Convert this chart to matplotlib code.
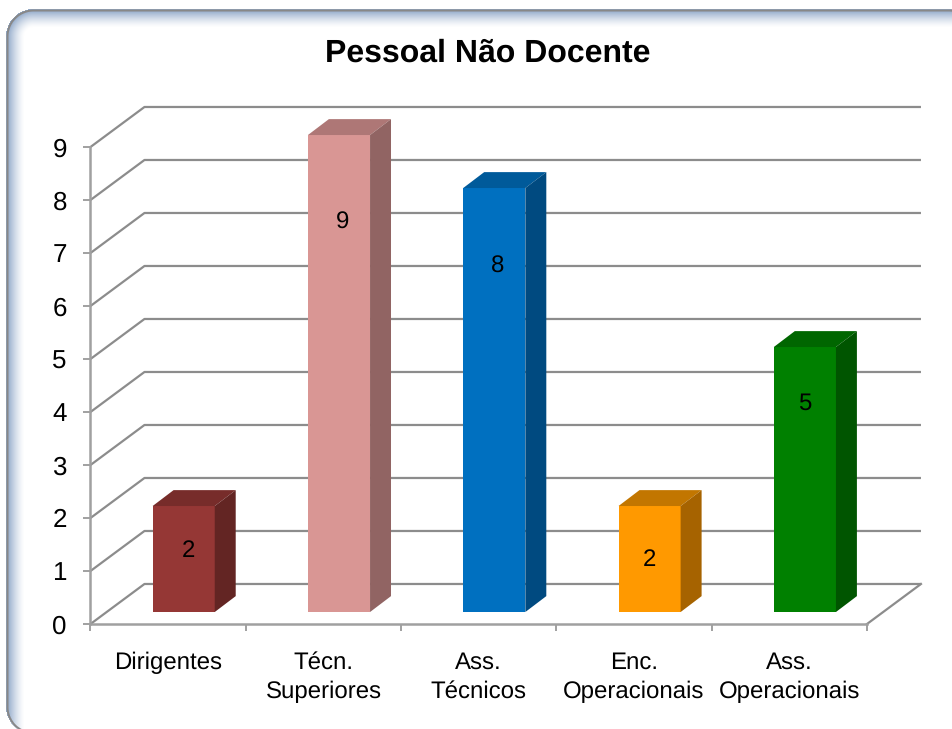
#!/usr/bin/env python3
import numpy as np
import matplotlib
matplotlib.use("Agg")
import matplotlib.pyplot as plt

plt.rcParams['font.family'] = ['Liberation Sans', 'DejaVu Sans']
plt.rcParams['text.hinting'] = 'no_hinting'
plt.rcParams['text.hinting_factor'] = 1

W, H = 953, 729

title = "Pessoal Não Docente"
categories = ["Dirigentes", "Técn.\nSuperiores", "Ass.\nTécnicos", "Enc.\nOperacionais", "Ass.\nOperacionais"]
values = [2, 9, 8, 2, 5]
label_y = [1.38, 7.58, 6.75, 1.21, 4.15]
label_dx = [0.03, 0.02, 0.02, 0.0, 0.0]
y_ticks = list(range(10))

front_cols = ['#953735', '#d99694', '#0070c0', '#ff9900', '#008000']
top_cols = ['#772c2a', '#ae7776', '#005a9a', '#c27600', '#006600']
side_cols = ['#632523', '#916463', '#004a80', '#a66300', '#005500']
line_col = '#8c8c8c'
axis_col = '#a0a0a0'

# depth of the 3d box, in data units
wall_dx, wall_dy = 0.3475, 0.755
bar_dx, bar_dy = 0.135, 0.30
bar_w = 0.40
bar_shift = 0.10
floor = 0.226


def rounded_sdf(xx, yy, x0, y0, x1, y1, r):
    # signed distance, positive inside
    cx, cy = (x0 + x1) / 2, (y0 + y1) / 2
    qx = np.abs(xx - cx) - (x1 - x0) / 2 + r
    qy = np.abs(yy - cy) - (y1 - y0) / 2 + r
    out = np.hypot(np.maximum(qx, 0), np.maximum(qy, 0)) + np.minimum(np.maximum(qx, qy), 0) - r
    return -out


def panel_image():
    yy, xx = np.mgrid[0:H, 0:W] + 0.5
    d = rounded_sdf(xx, yy, 7.5, 10.5, 975, 733, 26)
    d_shade = rounded_sdf(xx, yy, 7.5, 10.5, 1010, 770, 26)
    t = np.clip(1 - d_shade / 17, 0, 1) ** 1.4
    img = np.ones((H, W, 3))
    blue = np.array([0x92, 0xaa, 0xca]) / 255
    img = img * (1 - t[..., None]) + blue * t[..., None]
    edge = np.clip(1.5 - np.abs(d), 0, 1)[..., None]
    gray = np.array([0x88, 0x88, 0x88]) / 255
    img = img * (1 - edge) + gray * edge
    img[d < -1.5] = 1.0
    return img


fig = plt.figure(figsize=(W / 100, H / 100), dpi=100)
bg = fig.add_axes([0, 0, 1, 1])
bg.imshow(panel_image(), aspect='auto', interpolation='none')
bg.axis('off')

ax = fig.add_axes([90.5 / W, 1 - 624 / H, (867 - 90.5) / W, (624 - 147) / H])
ax.patch.set_alpha(0)
ax.set_xlim(0, 5)
ax.set_ylim(0, 9)

# back wall and left wall lines
for v in y_ticks:
    ax.plot([0, wall_dx, 5 + wall_dx], [v, v + wall_dy, v + wall_dy],
            color=line_col, lw=1.6, clip_on=False, zorder=1, solid_capstyle='butt')
ax.plot([5, 5 + wall_dx], [0, wall_dy], color=line_col, lw=1.6, clip_on=False, zorder=1)

# bars: front face from ax.bar, top and side from the same values
xpos = np.arange(len(values)) + 0.5 + bar_shift
ax.bar(xpos, values, width=bar_w, bottom=floor, color=front_cols, zorder=3, clip_on=False)
for i, v in enumerate(values):
    l, r = xpos[i] - bar_w / 2, xpos[i] + bar_w / 2
    t = floor + v
    ax.fill([l, r, r + bar_dx, l + bar_dx], [t, t, t + bar_dy, t + bar_dy],
            color=top_cols[i], lw=0, zorder=3, clip_on=False)
    ax.fill([r, r + bar_dx, r + bar_dx, r], [floor, floor + bar_dy, t + bar_dy, t],
            color=side_cols[i], lw=0, zorder=3, clip_on=False)
    ax.text(xpos[i] + label_dx[i], label_y[i], str(v), ha='center', va='center',
            fontsize=17, color='black', zorder=4)

for s in ['top', 'right']:
    ax.spines[s].set_visible(False)
for s in ['left', 'bottom']:
    ax.spines[s].set_color(axis_col)
    ax.spines[s].set_linewidth(1.8)

ax.set_yticks(y_ticks)
ax.set_yticklabels([str(v) for v in y_ticks], fontsize=18.5)
ax.tick_params(axis='y', length=5, width=1.4, color=axis_col, pad=12)
ax.set_xticks(range(6))
ax.set_xticklabels([])
ax.tick_params(axis='x', which='major', length=5, width=1.4, color=axis_col)
ax.set_xticks(np.arange(5) + 0.5, minor=True)
ax.set_xticklabels(categories, minor=True, fontsize=17.3, linespacing=1.38)
ax.tick_params(axis='x', which='minor', length=0, pad=20)

fig.text(488 / W, 1 - 62 / H, title, ha='center', va='baseline', fontsize=23, fontweight='bold')

fig.savefig('out.png', dpi=100)
